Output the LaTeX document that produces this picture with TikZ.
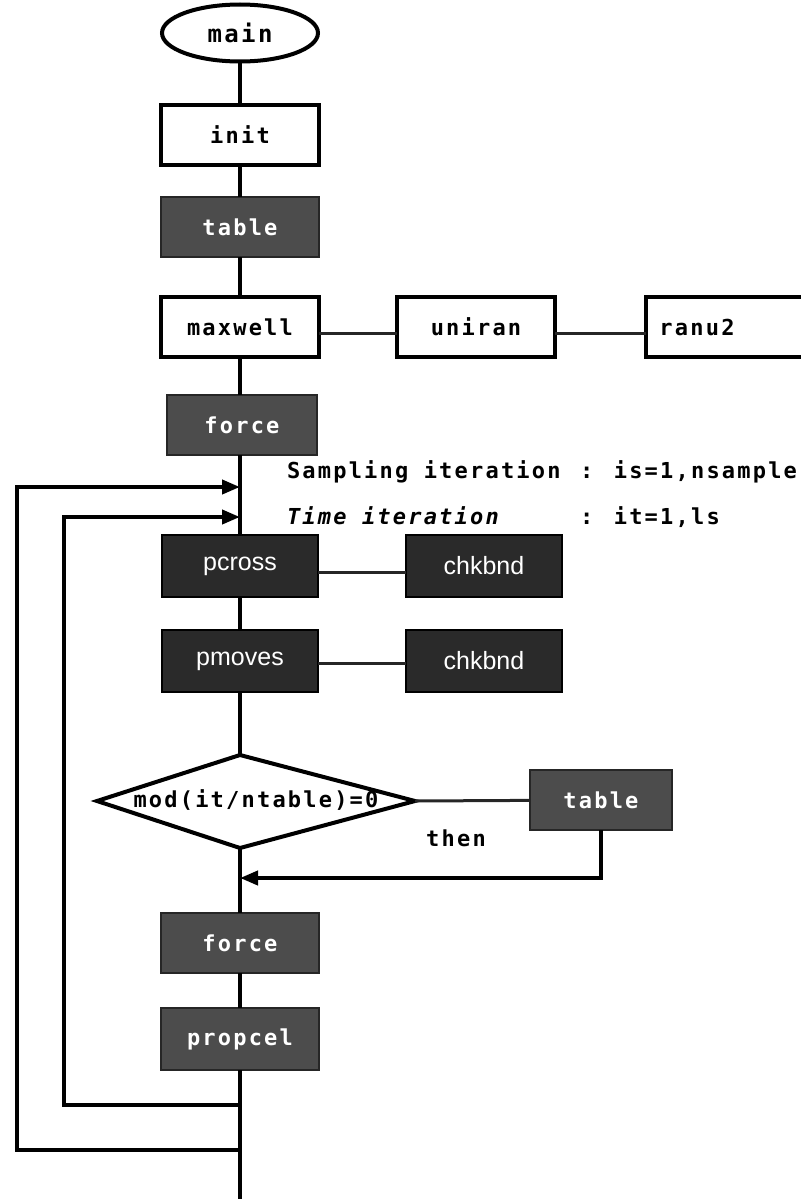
\documentclass[tikz,border=0pt]{standalone}
\usepackage{fontspec}
\usetikzlibrary{arrows.meta,shapes.geometric}
\newfontfamily\monofont[LetterSpace=10]{DejaVu Sans Mono}
\newfontfamily\arialfont{Liberation Sans}
\definecolor{midgray}{HTML}{4C4C4C}
\definecolor{darkbox}{HTML}{2A2A2A}
\begin{document}
\begin{tikzpicture}[x=0.5pt,y=-0.5pt,
  every node/.style={inner sep=0pt,outer sep=0pt},
  mtext/.style={font=\monofont\bfseries\fontsize{11}{13}\selectfont},
  wbox/.style={mtext,draw=black,line width=2pt,fill=white,minimum width=79pt,minimum height=30pt},
  gbox/.style={mtext,draw=black!85,line width=1pt,fill=midgray,text=white,minimum width=79pt,minimum height=30pt},
  dbox/.style={font=\arialfont\fontsize{12.5}{14}\selectfont,draw=black,line width=1pt,fill=darkbox,text=white,minimum width=78pt,minimum height=31pt},
  trunk/.style={line width=2pt},
  link/.style={line width=1.5pt,draw=black!85},
  arr/.style={line width=2pt,-{Triangle[length=9pt,width=7pt]}}
]
\useasboundingbox (0,0) rectangle (800,1199);

% main column
\node[draw,ellipse,line width=2pt,mtext,minimum width=78pt,minimum height=28.5pt] (main) at (240,33) {\fontsize{12}{14}\selectfont main};
\node[wbox] (init) at (240,135) {init};
\node[gbox] (table1) at (240,227) {table};
\node[wbox] (maxwell) at (240,327) {maxwell};
\node[wbox] (uniran) at (476,327) {uniran};
\node[wbox,anchor=west] (ranu2) at (646,327) {ranu2\hspace*{28pt}};
\node[gbox,minimum width=75pt] (force1) at (242,425) {force};

\draw[trunk] (main) -- (init);
\draw[trunk] (init) -- (table1);
\draw[trunk] (table1) -- (maxwell);
\draw[trunk] (maxwell.south) -- (maxwell.south |- force1.north);
\draw[link] ([yshift=-3pt]maxwell.east) -- ([yshift=-3pt]uniran.west);
\draw[link] ([yshift=-3pt]uniran.east) -- ([yshift=-3pt]ranu2.west);

% iteration labels
\node[mtext,anchor=base west] (samp) at (287,478) {Sampling iteration};
\node[mtext,anchor=base west] (sampr) at (580,478) {: is=1,nsample};
\node[mtext,anchor=base west] (time) at (287,524) {\itshape Time iteration};
\node[mtext,anchor=base west] (timer) at (580,524) {: it=1,ls};

% loop body
\node[dbox] (pcross) at (240,566) {pcross};
\node[dbox] (chk1) at (484,566) {chkbnd};
\node[dbox] (pmoves) at (240,661) {pmoves};
\node[dbox] (chk2) at (484,661) {chkbnd};

\coordinate (s1) at (240,487);
\coordinate (s2) at (240,517);
\draw[trunk] (pcross.north |- force1.south) -- (pcross.north);
\draw[trunk] (pcross) -- (pmoves);
\draw[link] ([yshift=-3pt]pcross.east) -- ([yshift=-3pt]chk1.west);
\draw[link] ([yshift=-1pt]pmoves.east) -- ([yshift=-1pt]chk2.west);

% decision
\coordinate (dtop) at (240,755);
\coordinate (dleft) at (97,801);
\coordinate (dright) at (415,801);
\coordinate (dbot) at (240,848);
\draw[trunk] (dtop) -- (dright) -- (dbot) -- (dleft) -- cycle;
\node[mtext] (cond) at (256,800) {mod(it/ntable)=0};
\draw[trunk] (pmoves) -- (dtop);

\node[gbox,minimum width=71pt] (table2) at (601,800) {table};
\draw[link] (dright) -- (table2);
\node[mtext] (then) at (456,838) {then};
\coordinate (ta) at (240,878);
\draw[arr] (table2.south) -- (table2.south |- ta) -- (ta);

\node[gbox] (force2) at (240,943) {force};
\node[gbox,minimum height=31pt] (propcel) at (240,1039) {propcel};
\draw[trunk] (dbot) -- (force2);
\draw[trunk] (force2) -- (propcel);
\coordinate (bottom) at (240,1199);
\draw[trunk] (propcel) -- (bottom);

% loops back
\coordinate (ib) at (240,1105);
\coordinate (il) at (64,1105);
\coordinate (it) at (64,517);
\draw[arr] (ib) -- (il) -- (it) -- (s2);
\coordinate (ob) at (240,1150);
\coordinate (ol) at (17,1150);
\coordinate (ot) at (17,487);
\draw[arr] (ob) -- (ol) -- (ot) -- (s1);
\end{tikzpicture}
\end{document}
